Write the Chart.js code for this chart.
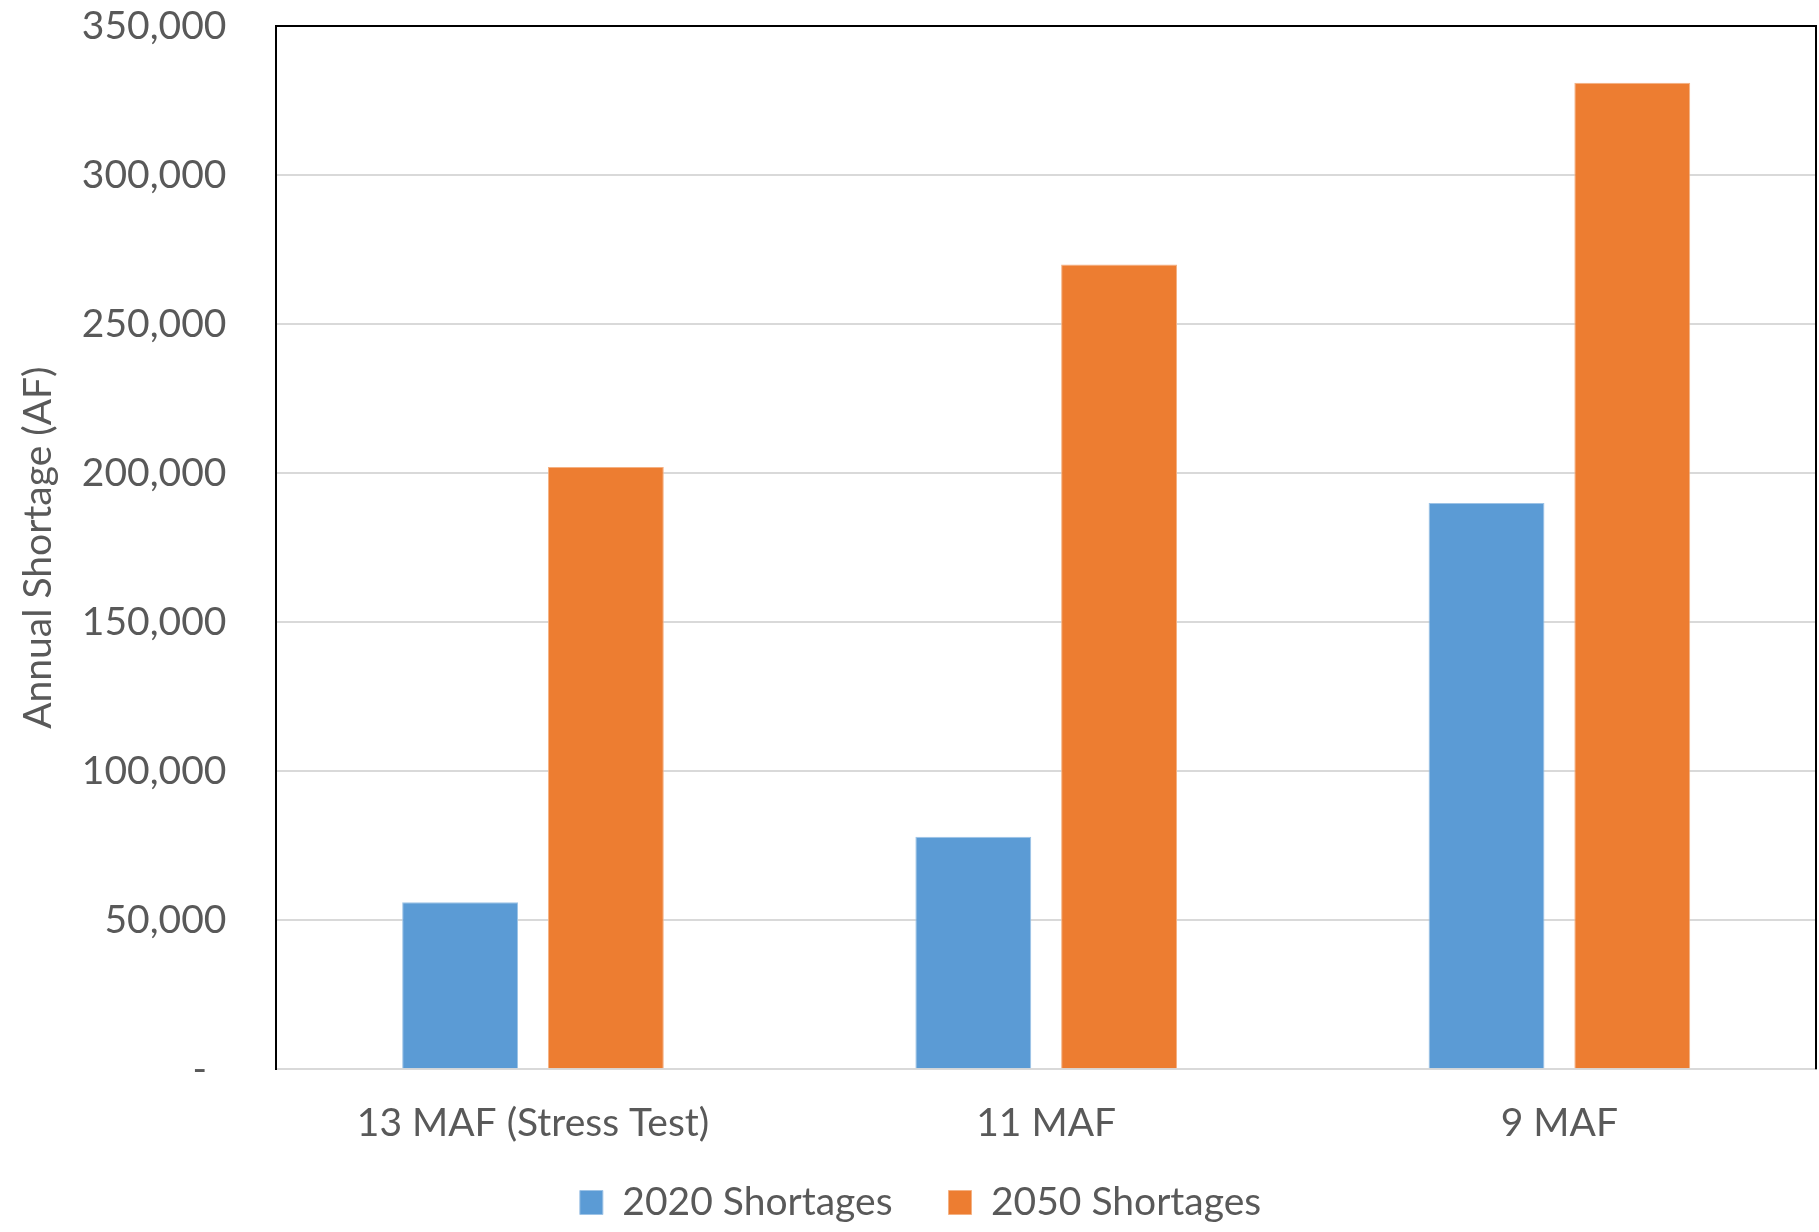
<!DOCTYPE html>
<html>
<head>
<meta charset="utf-8">
<script src="https://cdn.jsdelivr.net/npm/chart.js@4/dist/chart.umd.min.js"></script>
<style>
  html, body { margin: 0; padding: 0; background: #fff; }
  #wrap { width: 1819px; height: 1232px; }
</style>
</head>
<body>
<div id="wrap"><canvas id="shortageChart" width="1819" height="1232"></canvas></div>
<script>
// Chart data
const categories = ['13 MAF (Stress Test)', '11 MAF', '9 MAF'];
const shortages2020 = [56000, 78000, 190000];
const shortages2050 = [202000, 270000, 331000];
const seriesLabels = ['2020 Shortages', '2050 Shortages'];
const yTicks = [0, 50000, 100000, 150000, 200000, 250000, 300000, 350000];

const textColor = '#595959';
const gridColor = '#D9D9D9';
const fontFamily = 'Lato, "Open Sans", sans-serif';

// draws the black top and right edges of the plot frame
const framePlugin = {
  id: 'frame',
  afterDraw(chart) {
    const { ctx, chartArea } = chart;
    ctx.save();
    ctx.strokeStyle = '#000';
    ctx.lineWidth = 2;
    ctx.beginPath();
    ctx.moveTo(chartArea.left, chartArea.top);
    ctx.lineTo(chartArea.right, chartArea.top);
    ctx.lineTo(chartArea.right, chartArea.bottom);
    ctx.stroke();
    ctx.restore();
  }
};

const ctx = document.getElementById('shortageChart');
new Chart(ctx, {
  type: 'bar',
  data: {
    labels: categories,
    datasets: [
      {
        label: seriesLabels[0],
        data: shortages2020,
        backgroundColor: '#5B9BD5',
        borderColor: '#9DC3E6',
        borderWidth: 1,
        categoryPercentage: 0.568,
        barPercentage: 0.795
      },
      {
        label: seriesLabels[1],
        data: shortages2050,
        backgroundColor: '#ED7D31',
        borderColor: '#F4B183',
        borderWidth: 1,
        categoryPercentage: 0.568,
        barPercentage: 0.795
      }
    ]
  },
  options: {
    responsive: false,
    animation: false,
    layout: {
      padding: { top: 0, right: 3, left: 45, bottom: 0 }
    },
    plugins: {
      legend: {
        position: 'bottom',
        labels: {
          color: textColor,
          font: { family: fontFamily, size: 39 },
          boxWidth: 23,
          boxHeight: 24,
          padding: 36,
          generateLabels(chart) {
            // trailing spaces widen the gap between the two entries
            const items = Chart.defaults.plugins.legend.labels.generateLabels(chart);
            items.forEach(item => { item.text = item.text + '  '; });
            return items;
          }
        }
      },
      tooltip: { enabled: false }
    },
    scales: {
      x: {
        grid: { display: false, drawTicks: false },
        border: { display: true, color: gridColor, width: 2 },
        ticks: {
          color: textColor,
          font: { family: fontFamily, size: 39 },
          padding: 31
        },
        afterFit(scale) {
          // chart.js counts tick padding twice; drop the lower half
          scale.height -= 31;
        }
      },
      y: {
        min: 0,
        max: 350000,
        afterBuildTicks(axis) {
          axis.ticks = yTicks.map(v => ({ value: v }));
        },
        afterFit(scale) {
          scale.width -= 50;
          scale.paddingTop = 26;
          scale.paddingBottom = 0;
        },
        grid: { color: gridColor, lineWidth: 2, drawTicks: false },
        border: { display: true, color: '#000', width: 2 },
        ticks: {
          color: textColor,
          font: { family: fontFamily, size: 39 },
          padding: 50,
          callback(value) {
            if (value === 0) return '-\u2002';
            return value.toLocaleString('en-US');
          }
        },
        title: {
          display: true,
          text: 'Annual Shortage (AF)',
          color: textColor,
          font: { family: fontFamily, size: 39 },
          padding: { top: -30, bottom: 20 }
        }
      }
    }
  },
  plugins: [framePlugin]
});
</script>
</body>
</html>
